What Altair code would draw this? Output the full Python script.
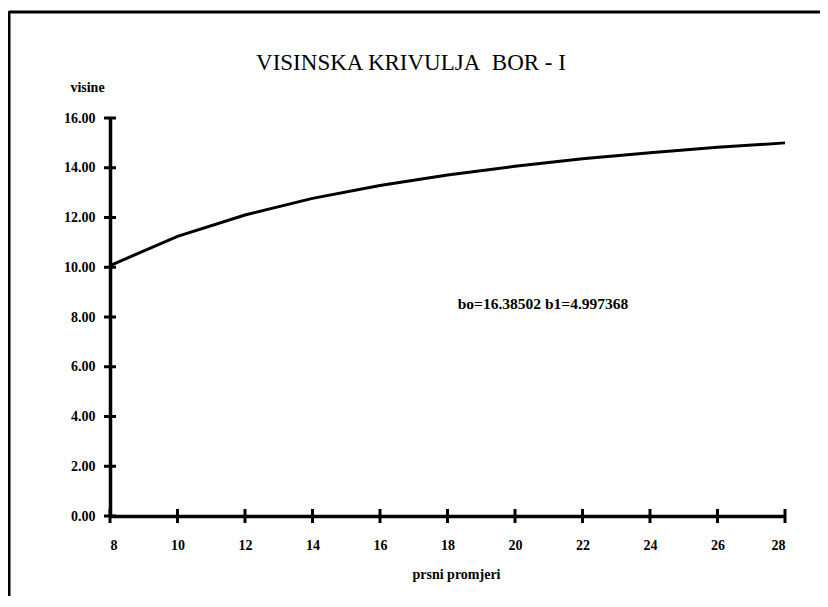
import altair as alt
import pandas as pd

# ---- data ----
diameters = [8, 10, 12, 14, 16, 18, 20, 22, 24, 26, 28]
heights = [10.07, 11.24, 12.10, 12.77, 13.29, 13.71, 14.06, 14.36, 14.60, 14.82, 15.00]
y_ticks = [0, 2, 4, 6, 8, 10, 12, 14, 16]
x_ticks = [8, 10, 12, 14, 16, 18, 20, 22, 24, 26, 28]
title_text = "VISINSKA KRIVULJA\u00a0 BOR - I"
y_title = "visine"
x_title = "prsni promjeri"
note_text = "bo=16.38502 b1=4.997368"

FONT = "Liberation Serif"
W, H = 675, 398

curve = pd.DataFrame({"d": diameters, "h": heights})
yt = pd.DataFrame({"y": y_ticks})
xt = pd.DataFrame({"x": x_ticks})
one = pd.DataFrame({"t": [0]})

xscale = alt.Scale(domain=[8, 28], nice=False, zero=False)
yscale = alt.Scale(domain=[0, 16], nice=False)

line = alt.Chart(curve).mark_line(color="black", strokeWidth=3).encode(
    x=alt.X(
        "d:Q",
        scale=xscale,
        axis=alt.Axis(
            values=x_ticks, format="d", grid=False, ticks=False,
            domainColor="black", domainWidth=3.5,
            labelFont=FONT, labelFontSize=14, labelFontWeight="bold",
            labelColor="black", labelPadding=22,
            title=x_title, titleFont=FONT, titleFontSize=14,
            titleFontWeight="bold", titleColor="black",
            titleX=346, titleY=58, titleAlign="center", titleBaseline="middle",
        ),
    ),
    y=alt.Y(
        "h:Q",
        scale=yscale,
        axis=alt.Axis(
            values=y_ticks, format=".2f", grid=False, ticks=False,
            domainColor="black", domainWidth=3.5,
            labelFont=FONT, labelFontSize=14, labelFontWeight="bold",
            labelColor="black", labelPadding=15,
            title=y_title, titleFont=FONT, titleFontSize=14,
            titleFontWeight="bold", titleColor="black", titleAngle=0,
            titleX=-23, titleY=-31, titleAlign="center", titleBaseline="middle",
        ),
    ),
)

ytick_rules = alt.Chart(yt).mark_rule(color="black", strokeWidth=3).encode(
    y=alt.Y("y:Q", scale=yscale),
    x=alt.value(-6),
    x2=alt.value(6),
)

xtick_rules = alt.Chart(xt).mark_rule(color="black", strokeWidth=3).encode(
    x=alt.X("x:Q", scale=xscale),
    y=alt.value(H - 7),
    y2=alt.value(H + 7),
)

title = alt.Chart(one).mark_text(
    font=FONT, fontSize=23, color="black", align="center", baseline="middle"
).encode(x=alt.value(301), y=alt.value(-55), text=alt.value(title_text))

note = alt.Chart(one).mark_text(
    font=FONT, fontSize=15.5, fontWeight="bold", color="black",
    align="center", baseline="middle",
).encode(x=alt.value(433), y=alt.value(186), text=alt.value(note_text))

frame_top = alt.Chart(one).mark_rule(color="black", strokeWidth=3).encode(
    x=alt.value(-101), x2=alt.value(720), y=alt.value(-106)
)
frame_left = alt.Chart(one).mark_rule(color="black", strokeWidth=3).encode(
    x=alt.value(-101), y=alt.value(-107), y2=alt.value(495)
)

chart = alt.layer(
    frame_top, frame_left, line, ytick_rules, xtick_rules, title, note
).properties(
    width=W, height=H,
    autosize=alt.AutoSizeParams(type="none"),
    padding={"left": 102, "top": 110, "right": 35, "bottom": 80},
    background="white",
).configure_view(stroke=None)

chart.save("out.html", embed_options={"renderer": "svg", "actions": False})
